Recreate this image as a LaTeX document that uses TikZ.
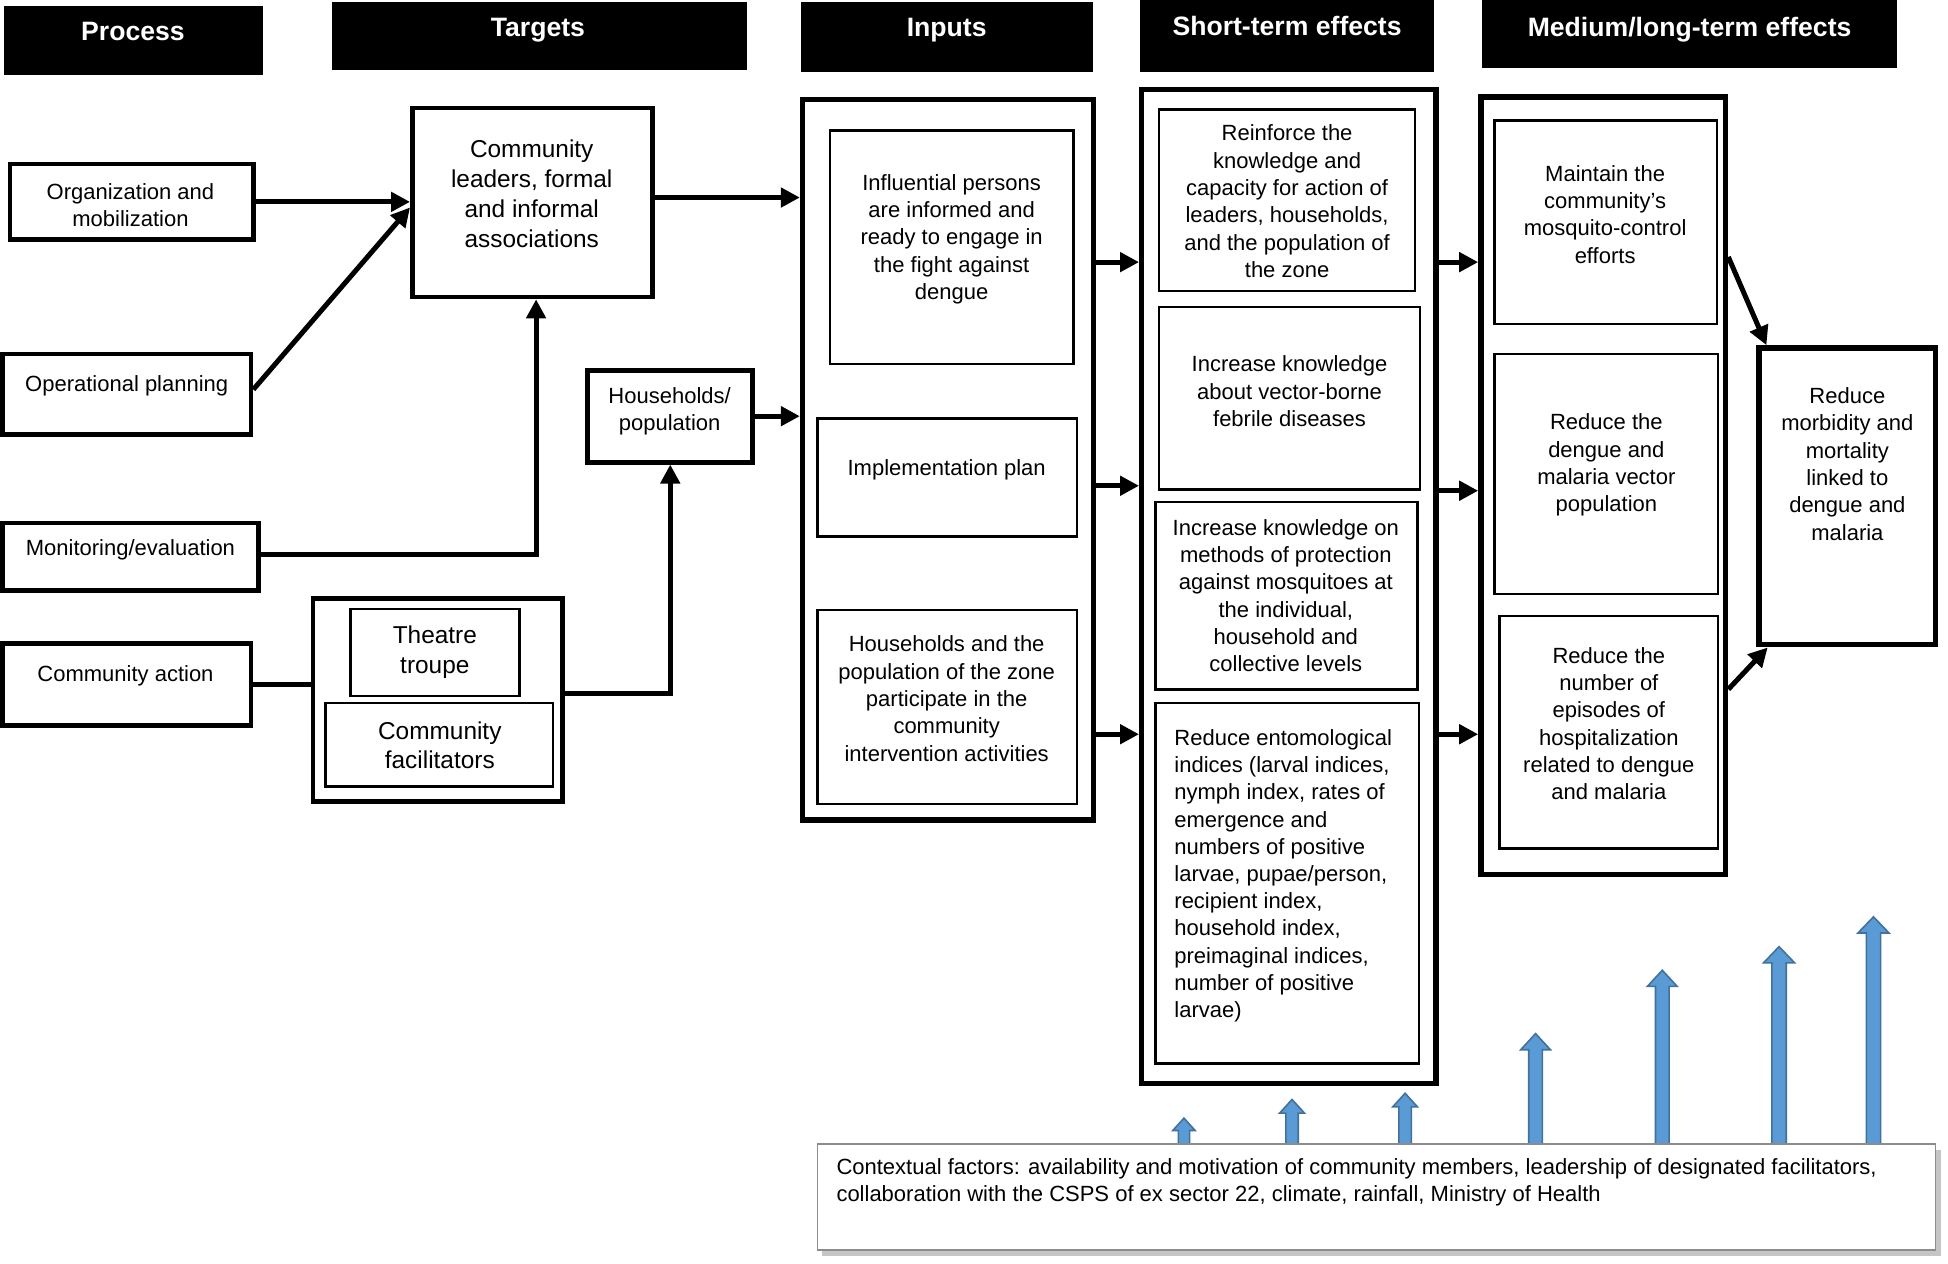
\documentclass[tikz,border=0pt]{standalone}
\usepackage{fontspec}
\setmainfont{Liberation Sans}
\usetikzlibrary{arrows.meta,fit,calc,shadows}
\definecolor{bluefill}{HTML}{5B9BD5}
\definecolor{blueline}{HTML}{41719C}
\newcommand\bluearr[6]{% x, tip y, base y, shaft w, head w, head l
  \filldraw[fill=bluefill, draw=blueline, line width=0.8pt, line join=miter]
    (#1-#4/2,#3) -- (#1-#4/2,#2+#6) -- (#1-#5/2,#2+#6) -- (#1,#2)
    -- (#1+#5/2,#2+#6) -- (#1+#4/2,#2+#6) -- (#1+#4/2,#3) -- cycle;}
\begin{document}
\begin{tikzpicture}[x=0.62115pt,y=-0.62115pt,
  hdr/.style={fill=black, draw=none, inner sep=0},
  hdrtxt/.style={text=white, font=\fontsize{13.3}{16}\selectfont\bfseries, inner sep=0, text depth=0pt},
  pbox/.style={draw, line width=2.4pt, inner sep=0},
  obox/.style={draw, line width=2.7pt, inner sep=0},
  ibox/.style={draw, line width=1.2pt, inner sep=0},
  txt/.style={align=center, inner sep=0, yshift=-1.2pt, font=\fontsize{11}{13.67}\selectfont},
  ltxt/.style={align=left, inner sep=0, anchor=west, yshift=-1.2pt, font=\fontsize{11}{13.6}\selectfont},
  bigtxt/.style={align=center, inner sep=0, yshift=-1.2pt, font=\fontsize{12.2}{14.9}\selectfont},
  conn/.style={line width=2.5pt, -{Triangle[length=9.5pt,width=9.5pt]}},
  plainconn/.style={line width=2.5pt},
]
\fill[white] (0,0) rectangle (1568,1017);
\useasboundingbox (0,0) rectangle (1568,1017);

% ---------- headers
\node[hdr, fit={(3,5) (212,60)}] (hProc) {};
\node[hdrtxt] (thProc) at (107,25) {Process};
\node[hdr, fit={(267,2) (601,56)}] (hTarg) {};
\node[hdrtxt] (thTarg) at (433,22) {Targets};
\node[hdr, fit={(645,2) (880,58)}] (hInp) {};
\node[hdrtxt] (thInp) at (762,22) {Inputs};
\node[hdr, fit={(918,0) (1154,58)}] (hShort) {};
\node[hdrtxt] (thShort) at (1036,21) {Short-term effects};
\node[hdr, fit={(1193,0) (1527,55)}] (hMed) {};
\node[hdrtxt] (thMed) at (1360,22) {Medium/long-term effects};

% ---------- process
\node[pbox, fit={(8,132) (204,193)}] (org) {};
\node[txt] (torg) at (105,163) {Organization and\\mobilization};
\node[pbox, fit={(2,285) (202,350)}] (opplan) {};
\node[txt] (topplan) at (102,309) {Operational planning};
\node[pbox, fit={(2,421) (208,475)}] (moneval) {};
\node[txt] (tmoneval) at (105,441) {Monitoring/evaluation};
\node[pbox, fit={(2,518) (202,584)}] (commact) {};
\node[txt] (tcommact) at (101,542) {Community action};

% ---------- targets
\node[pbox, fit={(332,87) (525,239)}] (leaders) {};
\node[bigtxt] (tleaders) at (428,154) {Community\\leaders, formal\\and informal\\associations};
\node[pbox, fit={(473,298) (606,372)}] (households) {};
\node[txt] (thouseholds) at (539,329) {Households/\\population};
\node[pbox, fit={(252,482) (453,645)}] (group) {};
\node[ibox, fit={(282,490) (418,560)}] (theatre) {};
\node[bigtxt] (ttheatre) at (350,523) {Theatre\\troupe};
\node[ibox, fit={(262,566) (445,633)}] (facil) {};
\node[bigtxt] (tfacil) at (354,598) {Community\\facilitators};

% ---------- inputs
\node[obox, fit={(646,80) (880,660)}] (inputs) {};
\node[ibox, fit={(668,105) (864,293)}] (influ) {};
\node[txt] (tinflu) at (766,190.5) {Influential persons\\are informed and\\ready to engage in\\the fight against\\dengue};
\node[ibox, fit={(658,337) (867,432)}] (impl) {};
\node[txt] (timpl) at (762,376) {Implementation plan};
\node[ibox, fit={(658,491) (867,647)}] (hhpop) {};
\node[txt] (thhpop) at (762,560.5) {Households and the\\population of the zone\\participate in the\\community\\intervention activities};

% ---------- short-term
\node[obox, fit={(919,72) (1156,872)}] (short) {};
\node[ibox, fit={(933,88) (1139,234)}] (reinf) {};
\node[txt] (treinf) at (1036,160) {Reinforce the\\knowledge and\\capacity for action of\\leaders, households,\\and the population of\\the zone};
\node[ibox, fit={(933,247) (1143,394)}] (vector) {};
\node[txt] (tvector) at (1038,313) {Increase knowledge\\about vector-borne\\febrile diseases};
\node[ibox, fit={(930,404) (1141,555)}] (methods) {};
\node[txt] (tmethods) at (1035,477.5) {Increase knowledge on\\methods of protection\\against mosquitoes at\\the individual,\\household and\\collective levels};
\node[ibox, fit={(930,566) (1142,856)}] (ento) {};
\node[ltxt] (tento) at (945,703) {Reduce entomological\\indices (larval indices,\\nymph index, rates of\\emergence and\\numbers of positive\\larvae, pupae/person,\\recipient index,\\household index,\\preimaginal indices,\\number of positive\\larvae)};

% ---------- medium/long-term
\node[obox, fit={(1192,78) (1389,704)}] (medium) {};
\node[ibox, fit={(1203,97) (1382,261)}] (maintain) {};
\node[txt] (tmaintain) at (1292,170.5) {Maintain the\\community’s\\mosquito-control\\efforts};
\node[ibox, fit={(1203,285) (1383,478)}] (vecpop) {};
\node[txt] (tvecpop) at (1293,372.5) {Reduce the\\dengue and\\malaria vector\\population};
\node[ibox, fit={(1207,496) (1383,683)}] (hosp) {};
\node[txt] (thosp) at (1295,580.5) {Reduce the\\number of\\episodes of\\hospitalization\\related to dengue\\and malaria};
\node[pbox, line width=2.7pt, fit={(1416,280) (1558,519)}] (final) {};
\node[txt] (tfinal) at (1487,371.5) {Reduce\\morbidity and\\mortality\\linked to\\dengue and\\malaria};

% ---------- contextual factors
\bluearr{953}{900}{921}{9}{18}{10}
\bluearr{1040}{885}{921}{10}{20}{11}
\bluearr{1131}{880}{921}{10}{20}{11}
\bluearr{1236}{832}{921}{11}{24}{13}
\bluearr{1338}{781}{921}{11}{24}{13}
\bluearr{1432}{762}{921}{11.5}{25}{13}
\bluearr{1508}{738}{921}{11.5}{25}{13}
\node[draw=black!45, line width=0.8pt, fill=white, inner sep=0,
      drop shadow={shadow xshift=2.5pt, shadow yshift=-3pt, fill=black!50, opacity=0.45},
      fit={(658,921) (1558,1006)}] (ctx) {};
\node[ltxt, font=\fontsize{11}{13.67}\selectfont] (tctx) at (673,950) {Contextual factors: availability and motivation of community members, leadership of designated facilitators,\\collaboration with the CSPS of ex sector 22, climate, rainfall, Ministry of Health};

% ---------- connectors
\coordinate (rowA) at (0,211);
\coordinate (rowB) at (0,391);
\coordinate (rowC) at (0,591);
\coordinate (rowB2) at (0,395);

\draw[conn] (org.east) -- (org.east -| leaders.west);
\draw[conn] ($(opplan.east)+(0,-4)$) -- ($(leaders.west)+(0,4)$);
\draw[conn] ($(moneval.east)+(0,-2)$) -| ($(leaders.south)+(3,0)$);
\draw[plainconn] (commact.east) -- (commact.east -| group.west);
\draw[conn] ($(group.east)+(0,-5)$) -| (households.south);
\draw[conn] ($(leaders.east)+(0,-4)$) -- ($(leaders.east -| inputs.west)+(0,-4)$);
\draw[conn] (households.east) -- (households.east -| inputs.west);

\draw[conn] (inputs.east |- rowA) -- (short.west |- rowA);
\draw[conn] (inputs.east |- rowB) -- (short.west |- rowB);
\draw[conn] (inputs.east |- rowC) -- (short.west |- rowC);

\draw[conn] (short.east |- rowA) -- (medium.west |- rowA);
\draw[conn] (short.east |- rowB2) -- (medium.west |- rowB2);
\draw[conn] (short.east |- rowC) -- (medium.west |- rowC);

\draw[conn] ($(medium.north east)+(0,131)$) -- ($(final.north west)+(8,0)$);
\draw[conn] ($(medium.north east)+(0,479)$) -- ($(final.south west)+(9,0)$);
\end{tikzpicture}
\end{document}
